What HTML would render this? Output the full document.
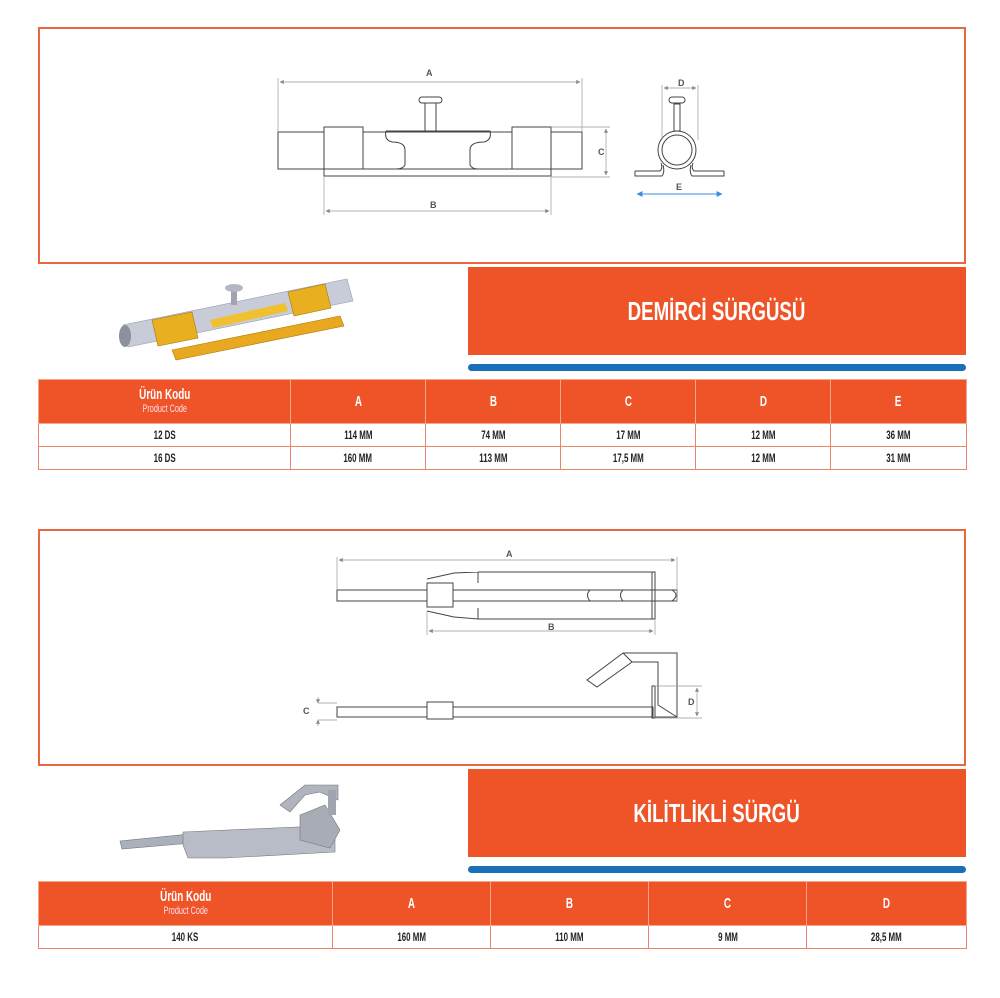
<!DOCTYPE html>
<html><head><meta charset="utf-8"><style>
*{margin:0;padding:0;box-sizing:border-box}
body{width:1000px;height:998px;background:#fff;position:relative;overflow:hidden;font-family:"Liberation Sans",sans-serif;font-weight:bold}
.box{position:absolute;left:38px;width:928px;height:237px;border:2px solid #e8673f}
.title{position:absolute;left:468px;width:498px;height:88px;background:#ef5428;color:#fff;font-size:26px;display:flex;align-items:center;justify-content:center}
.title span{display:inline-block;transform:scaleX(.72);white-space:nowrap}
.blue{position:absolute;left:468px;width:498px;height:7px;background:#1b6fb8;border-radius:4px}
table{position:absolute;left:38px;width:928px;border-collapse:collapse;table-layout:fixed}
td{border:1.5px solid #e8866a;text-align:center;font-size:12px;color:#222;height:23px;vertical-align:middle;white-space:nowrap}
td span.n{display:inline-block;transform:scaleX(.66)}
tr.h td{background:#ef5428;color:#fff;height:44px;font-size:15px;border-color:#f4a68d;line-height:13px}
.s{font-size:11px;font-weight:normal;color:#fde}
</style></head><body>
<div class="box" style="top:27px"></div>
<div class="box" style="top:529px"></div>
<div class="title" style="top:267px"><span>DEMİRCİ SÜRGÜSÜ</span></div>
<div class="blue" style="top:364px"></div>
<div class="title" style="top:769px"><span>KİLİTLİKLİ SÜRGÜ</span></div>
<div class="blue" style="top:866px"></div>

<table style="top:379px">
<colgroup><col style="width:252px"><col style="width:135px"><col style="width:135px"><col style="width:135px"><col style="width:135px"><col style="width:136px"></colgroup>
<tr class="h"><td><span class="n">Ürün Kodu<br><span class="s">Product Code</span></span></td><td><span class="n">A</span></td><td><span class="n">B</span></td><td><span class="n">C</span></td><td><span class="n">D</span></td><td><span class="n">E</span></td></tr>
<tr><td><span class="n">12 DS</span></td><td><span class="n">114 MM</span></td><td><span class="n">74 MM</span></td><td><span class="n">17 MM</span></td><td><span class="n">12 MM</span></td><td><span class="n">36 MM</span></td></tr>
<tr><td><span class="n">16 DS</span></td><td><span class="n">160 MM</span></td><td><span class="n">113 MM</span></td><td><span class="n">17,5 MM</span></td><td><span class="n">12 MM</span></td><td><span class="n">31 MM</span></td></tr>
</table>
<table style="top:881px">
<colgroup><col style="width:294px"><col style="width:158px"><col style="width:158px"><col style="width:158px"><col style="width:160px"></colgroup>
<tr class="h"><td><span class="n">Ürün Kodu<br><span class="s">Product Code</span></span></td><td><span class="n">A</span></td><td><span class="n">B</span></td><td><span class="n">C</span></td><td><span class="n">D</span></td></tr>
<tr><td><span class="n">140 KS</span></td><td><span class="n">160 MM</span></td><td><span class="n">110 MM</span></td><td><span class="n">9 MM</span></td><td><span class="n">28,5 MM</span></td></tr>
</table>

<svg width="1000" height="998" style="position:absolute;left:0;top:0" font-family="Liberation Sans" font-size="9" fill="none">
<defs>
<marker id="ar" viewBox="0 0 10 10" refX="9" refY="5" markerWidth="6" markerHeight="6" orient="auto-start-reverse"><path d="M0,0L10,5L0,10z" fill="#888"/></marker>
<marker id="ab" viewBox="0 0 10 10" refX="9" refY="5" markerWidth="6" markerHeight="6" orient="auto-start-reverse"><path d="M0,0L10,5L0,10z" fill="#3a8ee0"/></marker>
</defs>
<g stroke="#444" stroke-width="1">
<rect x="278" y="132" width="304" height="37"/>
<rect x="324" y="127" width="39" height="49" fill="#fff"/>
<rect x="512" y="127" width="39" height="49" fill="#fff"/>
<rect x="324" y="169" width="227" height="7" fill="#fff"/>
<path d="M386,131 L490,131 Q492,140 484,142 Q470,142 470,150 L470,165 Q472,169 478,169 L510,169 M386,131 Q384,140 392,142 Q405,142 405,150 L405,165 Q403,169 396,169 L365,169" />
<rect x="425" y="102" width="11" height="29" fill="#fff"/>
<rect x="419" y="97" width="23" height="6" rx="3" fill="#fff"/>
<circle cx="677" cy="150" r="19"/><circle cx="677" cy="150" r="15"/>
<path d="M635,171 L660,171 Q663,168 661,163 M635,171 L635,176 L662,176 Q665,172 663,165 M724,171 L694,171 Q691,168 693,163 M724,171 L724,176 L692,176 Q689,172 691,165"/>
<rect x="674" y="104" width="6" height="27" fill="#fff"/>
<rect x="669" y="97" width="16" height="6" rx="3" fill="#fff"/>
<rect x="337" y="590" width="340" height="11" rx="0"/>
<path d="M427,579 L454,573 L478,572 L478,583 M427,611 L454,617 L478,619 L478,608 M478,572 L652,572 L652,619 L478,619"/>
<rect x="427" y="583" width="26" height="24" fill="#fff"/>
<rect x="652" y="572" width="3" height="47" fill="#fff"/>
<path d="M590,590 Q585,595 590,601 L625,601 M623,590 Q618,595 623,601 L672,601 Q680,595 672,590 Z"/>
<rect x="337" y="707" width="316" height="10"/>
<rect x="427" y="702" width="26" height="17" fill="#fff"/>
<rect x="652" y="686" width="3" height="32"/>
<path d="M623,653 L677,653 L677,717 L655,717 M623,653 L632,662 L658,662 L658,705 L677,717 M623,653 L587,680 L597,687 L632,662"/>
</g>
<g stroke="#999" stroke-width="0.7">
<path d="M278,78 V132 M582,78 V132 M324,176 V215 M551,176 V215 M551,127 H610 M551,177 H610 M662,85 V140 M698,85 V140 M337,557 V590 M677,557 V601 M427,611 V635 M655,619 V635 M655,686 H702 M655,718 H702 M318,703 H337 M318,720 H337"/>
<line x1="280" y1="82" x2="580" y2="82" marker-start="url(#ar)" marker-end="url(#ar)"/>
<line x1="326" y1="211" x2="549" y2="211" marker-start="url(#ar)" marker-end="url(#ar)"/>
<line x1="606" y1="129" x2="606" y2="175" marker-start="url(#ar)" marker-end="url(#ar)"/>
<line x1="664" y1="88" x2="696" y2="88" marker-start="url(#ar)" marker-end="url(#ar)"/>
<line x1="339" y1="560" x2="675" y2="560" marker-start="url(#ar)" marker-end="url(#ar)"/>
<line x1="429" y1="631" x2="653" y2="631" marker-start="url(#ar)" marker-end="url(#ar)"/>
<line x1="697" y1="688" x2="697" y2="716" marker-start="url(#ar)" marker-end="url(#ar)"/>
<line x1="318" y1="697" x2="318" y2="703" marker-end="url(#ar)"/>
<line x1="318" y1="726" x2="318" y2="720" marker-end="url(#ar)"/>
</g>
<line x1="637" y1="194" x2="722" y2="194" stroke="#3a8ee0" stroke-width="1" marker-start="url(#ab)" marker-end="url(#ab)"/>
<g fill="#555" stroke="none">
<text x="426" y="76">A</text><text x="430" y="208">B</text><text x="598" y="155">C</text><text x="678" y="86">D</text><text x="676" y="190">E</text>
<text x="506" y="557">A</text><text x="548" y="630">B</text><text x="303" y="714">C</text><text x="688" y="705">D</text>
</g>
<polygon points="172,350 340,316 344,326 176,360" fill="#e8a820" stroke="#b27a10" stroke-width="0.6"/>
<polygon points="200,314 280,297 282,303 202,320" fill="#c89030"/>
<polygon points="123,325 347,279 353,301 128,347" fill="#c8ccd8" stroke="#9aa0ae" stroke-width="0.6"/>
<ellipse cx="125" cy="336" rx="6" ry="11" fill="#8c909c"/>
<polygon points="152,320 192,312 198,338 158,346" fill="#e8b020" stroke="#a87810" stroke-width="0.6"/>
<polygon points="288,292 325,284 331,308 294,316" fill="#e8b020" stroke="#a87810" stroke-width="0.6"/>
<polygon points="210,320 285,303 288,311 213,328" fill="#f0c030"/>
<rect x="231" y="287" width="6" height="18" fill="#a0a4b0"/>
<ellipse cx="234" cy="288" rx="9" ry="4" fill="#b4b8c4"/>
<polygon points="120,841 190,834 192,843 122,849" fill="#aab0bc" stroke="#777" stroke-width="0.6"/>
<polygon points="183,832 320,826 335,832 335,852 225,858 188,858 183,845" fill="#b8bcc6" stroke="#777" stroke-width="0.6"/>
<polygon points="300,815 325,805 340,830 330,848 300,840" fill="#a8acb6" stroke="#777" stroke-width="0.6"/>
<polygon points="280,805 305,785 338,785 338,800 320,792 305,795 290,812" fill="#b0b4be" stroke="#777" stroke-width="0.6"/>
<rect x="328" y="790" width="8" height="25" fill="#a0a4ae"/>
</svg>
</body></html>
